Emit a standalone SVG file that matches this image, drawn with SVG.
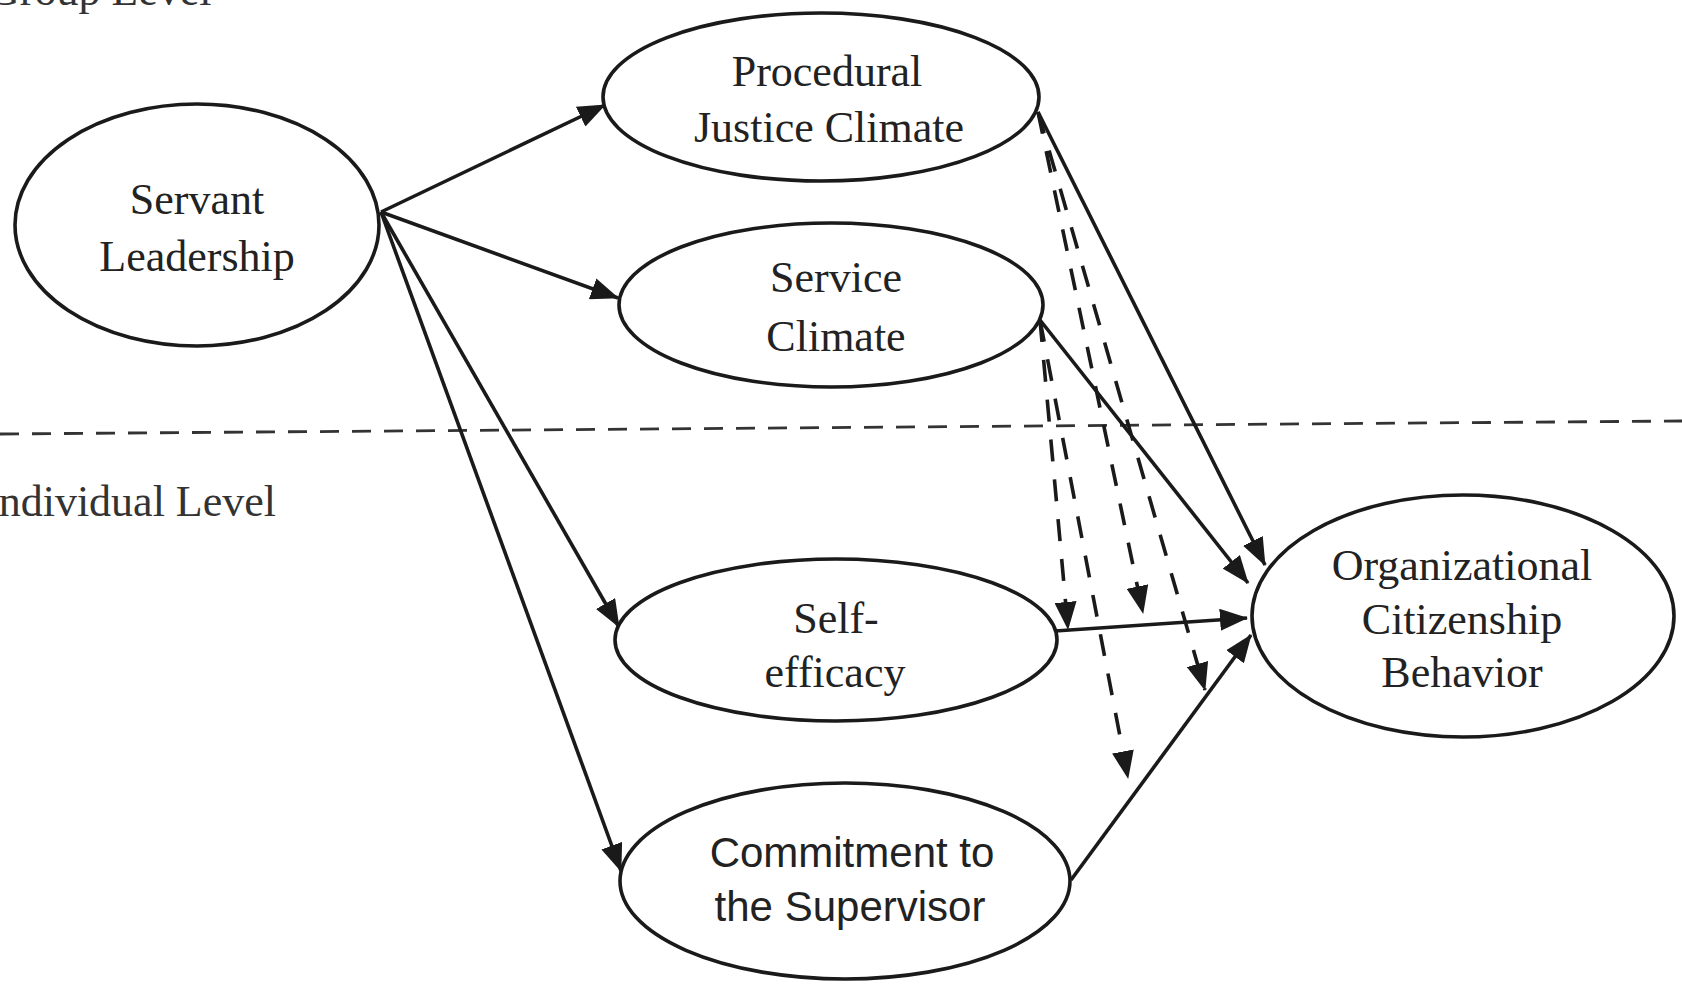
<svg xmlns="http://www.w3.org/2000/svg" width="1682" height="984" viewBox="0 0 1682 984">
  <style>
    .node ellipse { fill: #fff; stroke: #1a1a1a; stroke-width: 3.6; }
    .node text { font-family: "Liberation Serif", "Times New Roman", serif; font-size: 44px; fill: #222; text-anchor: middle; }
    .node text.sans { font-family: "Liberation Sans", Arial, sans-serif; font-size: 42px; }
    .lvl { font-family: "Liberation Serif", "Times New Roman", serif; font-size: 44px; fill: #333; }
    .sep { stroke: #333; stroke-width: 2.8; stroke-dasharray: 19 13; fill: none; }
    .solid { stroke: #1a1a1a; stroke-width: 3.6; fill: none; marker-end: url(#ah); }
    .dash { stroke: #1a1a1a; stroke-width: 3.6; fill: none; stroke-dasharray: 22 18; marker-end: url(#ah); }
  </style>
  <defs>
    <marker id="ah" markerUnits="userSpaceOnUse" markerWidth="28" markerHeight="22" viewBox="0 0 28 22" refX="27" refY="11" orient="auto">
      <path d="M0,0 L28,11 L0,22 z" fill="#1a1a1a"/>
    </marker>
  </defs>
  <rect x="0" y="0" width="1682" height="984" fill="#fff"/>

  <g id="levels">
    <text class="lvl" x="-12" y="5">Group Level</text>
    <line class="sep" x1="0" y1="434" x2="1682" y2="421"/>
    <text class="lvl" x="-16" y="516">Individual Level</text>
  </g>

  <g id="servant-leadership" class="node">
    <ellipse cx="197" cy="225" rx="182" ry="121"/>
    <text x="197" y="214">Servant</text>
    <text x="197" y="271">Leadership</text>
  </g>

  <g id="procedural-justice-climate" class="node">
    <ellipse cx="821" cy="97" rx="218" ry="84"/>
    <text x="827" y="86">Procedural</text>
    <text x="829" y="142">Justice Climate</text>
  </g>

  <g id="service-climate" class="node">
    <ellipse cx="831" cy="305" rx="212" ry="82"/>
    <text x="836" y="292">Service</text>
    <text x="836" y="351">Climate</text>
  </g>

  <g id="self-efficacy" class="node">
    <ellipse cx="836" cy="640" rx="221" ry="81"/>
    <text x="836" y="633">Self-</text>
    <text x="835" y="687">efficacy</text>
  </g>

  <g id="commitment-supervisor" class="node">
    <ellipse cx="845" cy="881" rx="225" ry="98"/>
    <text class="sans" x="852" y="867">Commitment to</text>
    <text class="sans" x="850" y="921">the Supervisor</text>
  </g>

  <g id="ocb" class="node">
    <ellipse cx="1463" cy="616" rx="211" ry="121"/>
    <text x="1462" y="580">Organizational</text>
    <text x="1462" y="634">Citizenship</text>
    <text x="1462" y="687">Behavior</text>
  </g>

  <g id="connectors">
    <path class="solid" d="M381,212 L605,105"/>
    <path class="solid" d="M381,212 L618,298"/>
    <path class="solid" d="M381,212 L619,627"/>
    <path class="solid" d="M381,212 L621,871"/>
    <path class="solid" d="M1038,112 L1265,565"/>
    <path class="solid" d="M1040,320 L1248,583"/>
    <path class="solid" d="M1055,631 L1247,618"/>
    <path class="solid" d="M1071,880 L1251,635"/>
    <path class="dash" d="M1040,320 L1068,629"/>
    <path class="dash" d="M1038,112 L1143,613"/>
    <path class="dash" d="M1038,112 L1205,690"/>
    <path class="dash" d="M1040,320 L1128,778"/>
  </g>
</svg>
